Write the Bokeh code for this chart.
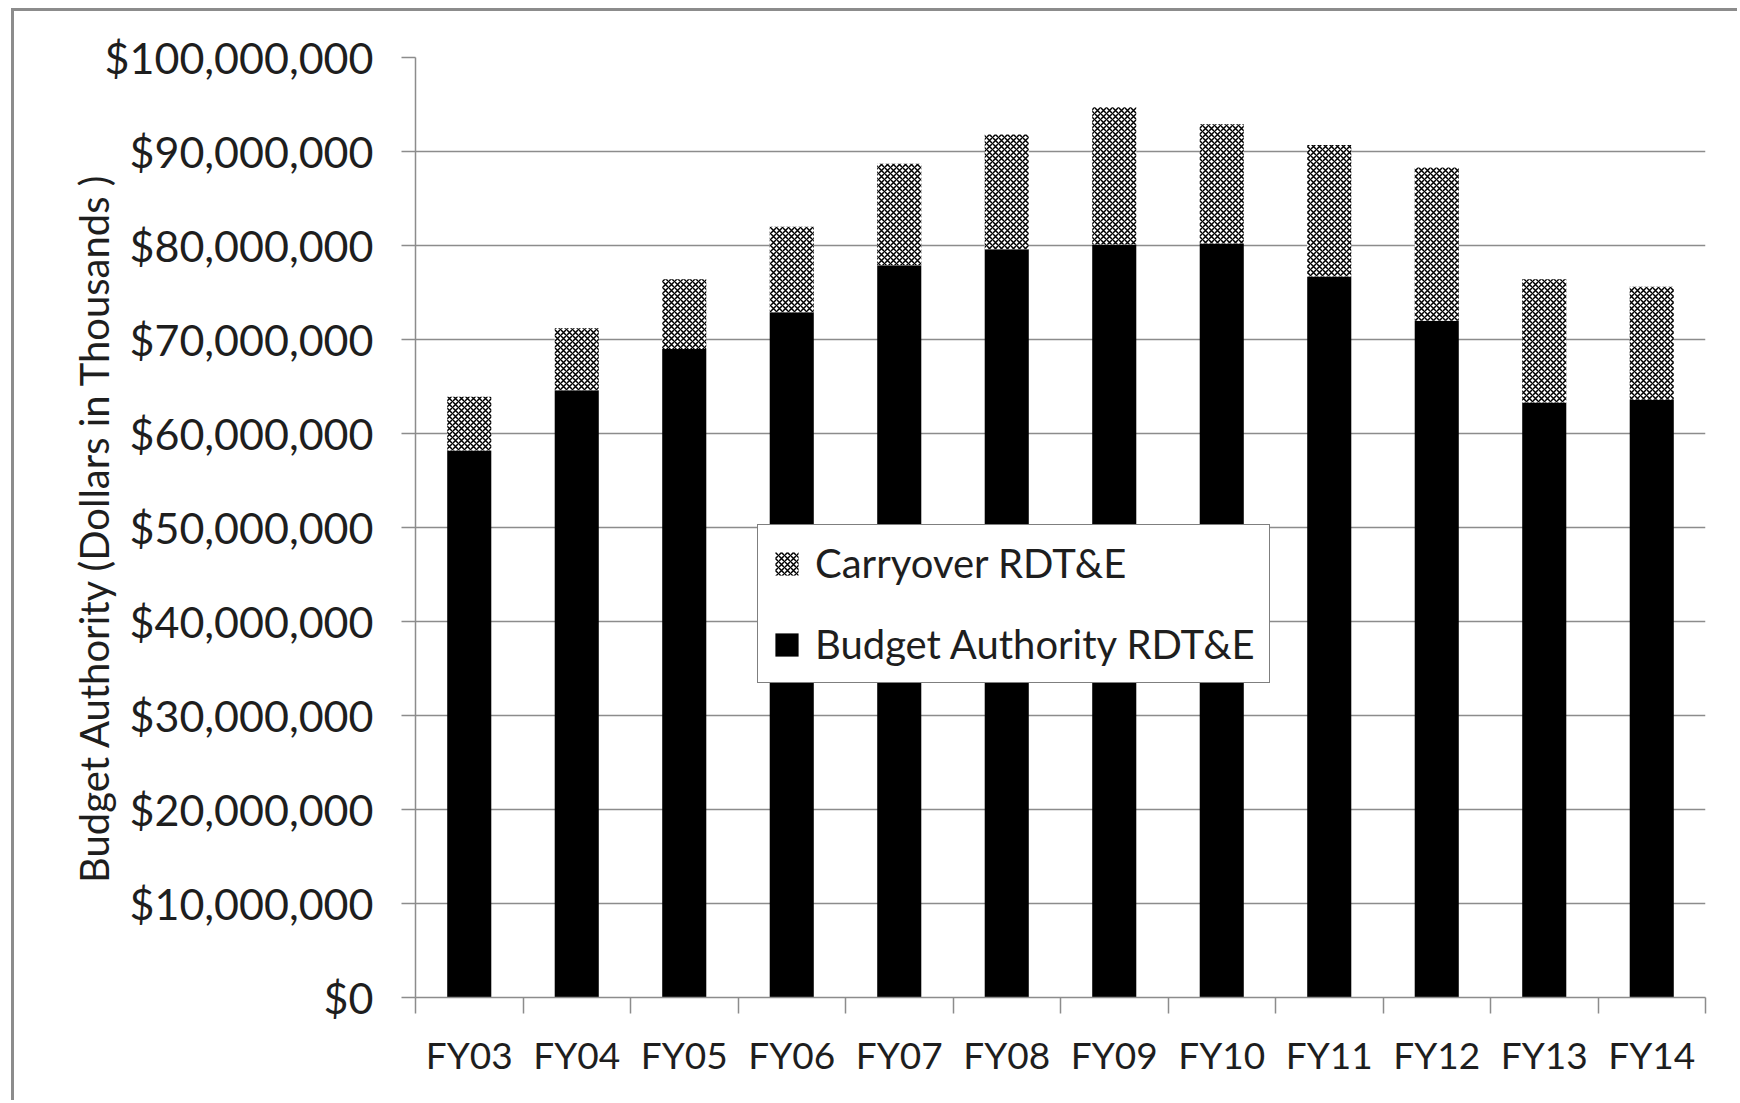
from bokeh.plotting import figure
from bokeh.models import (Range1d, FixedTicker, NumeralTickFormatter, CustomJSTickFormatter,
                          Legend, LegendItem)
from bokeh.embed import file_html
from bokeh.resources import INLINE
import numpy as np

# Fiscal years and RDT&E amounts (dollars in thousands)
years = ["FY03", "FY04", "FY05", "FY06", "FY07", "FY08",
         "FY09", "FY10", "FY11", "FY12", "FY13", "FY14"]
budget_authority = [58.2e6, 64.6e6, 69.0e6, 72.9e6, 77.9e6, 79.6e6,
                    80.1e6, 80.2e6, 76.7e6, 72.0e6, 63.3e6, 63.6e6]
carryover = [5.7e6, 6.6e6, 7.4e6, 9.1e6, 10.8e6, 12.2e6,
             14.6e6, 12.7e6, 14.0e6, 16.3e6, 13.1e6, 12.0e6]
y_ticks = [i * 10e6 for i in range(11)]

FONT = "Lato"
GREY = "#8c8c8c"
TEXT = "#1e1e1e"

x = np.arange(len(years)) + 0.5
budget = np.array(budget_authority)
total = budget + np.array(carryover)

p = figure(width=1726, height=1092, output_backend="svg", toolbar_location=None,
           x_range=Range1d(0, len(years)), y_range=Range1d(0, 100e6),
           min_border_left=401, min_border_right=35, min_border_top=46, min_border_bottom=106)
p.margin = (8, 0, 0, 11)
p.styles = {"border-left": "3px solid #8c8c8c", "border-top": "3px solid #8c8c8c"}
p.outline_line_color = None
p.background_fill_color = "white"
p.border_fill_color = "white"

r_budget = p.vbar(x=x, bottom=0, top=budget, width=0.41,
                  fill_color="black", line_color=None)
r_carry = p.vbar(x=x, bottom=budget, top=total, width=0.41,
                 fill_color="white", line_color=None,
                 hatch_pattern="diagonal_cross", hatch_color="black",
                 hatch_scale=6, hatch_weight=1.5)

# grid
p.xgrid.grid_line_color = None
p.ygrid.grid_line_color = GREY
p.ygrid.grid_line_width = 1.5

# y axis
p.yaxis.ticker = FixedTicker(ticks=y_ticks)
p.yaxis.formatter = NumeralTickFormatter(format="$0,0")
p.yaxis.axis_line_color = GREY
p.yaxis.axis_line_width = 1.5
p.yaxis.major_tick_line_color = GREY
p.yaxis.major_tick_line_width = 1.5
p.yaxis.major_tick_out = 14
p.yaxis.major_tick_in = 0
p.yaxis.minor_tick_line_color = None
p.yaxis.major_label_text_font = FONT
p.yaxis.major_label_text_font_size = "43px"
p.yaxis.major_label_text_color = TEXT
p.yaxis.major_label_standoff = 28
p.yaxis.axis_label = "Budget Authority (Dollars in Thousands )"
p.yaxis.axis_label_text_font = FONT
p.yaxis.axis_label_text_font_size = "40px"
p.yaxis.axis_label_text_font_style = "normal"
p.yaxis.axis_label_text_color = TEXT
p.yaxis.axis_label_standoff = -16

# x axis: labels at category centres, tick marks on category boundaries
p.xaxis.ticker = FixedTicker(ticks=list(x), minor_ticks=list(range(len(years) + 1)))
p.xaxis.formatter = CustomJSTickFormatter(args=dict(labels=years),
                                          code="return labels[Math.floor(tick)];")
p.xaxis.axis_line_color = GREY
p.xaxis.axis_line_width = 1.5
p.xaxis.major_tick_line_color = None
p.xaxis.minor_tick_line_color = GREY
p.xaxis.minor_tick_line_width = 1.5
p.xaxis.minor_tick_out = 16
p.xaxis.minor_tick_in = 0
p.xaxis.major_label_text_font = FONT
p.xaxis.major_label_text_font_size = "37px"
p.xaxis.major_label_text_color = TEXT
p.xaxis.major_label_standoff = 18

legend = Legend(items=[LegendItem(label="Carryover RDT&E", renderers=[r_carry]),
                       LegendItem(label="Budget Authority RDT&E", renderers=[r_budget])],
                location=(342, 314), orientation="vertical")
legend.margin = 0
legend.padding = 14
legend.spacing = 33
legend.glyph_width = 29
legend.glyph_height = 29
legend.label_standoff = 14
legend.label_text_font = FONT
legend.label_text_font_size = "40px"
legend.label_text_color = TEXT
legend.border_line_color = "black"
legend.border_line_width = 1.5
legend.background_fill_color = "white"
legend.background_fill_alpha = 1
p.add_layout(legend, "center")

open("out.html", "w").write(file_html(p, INLINE))
